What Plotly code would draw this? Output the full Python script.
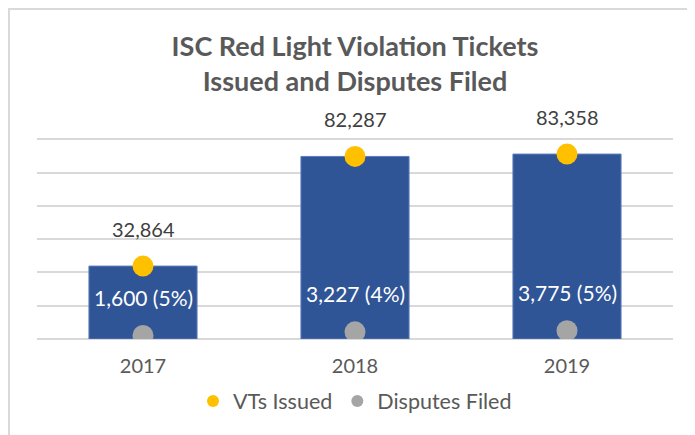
import plotly.graph_objects as go

years = ["2017", "2018", "2019"]
vts_issued = [32864, 82287, 83358]
disputes_filed = [1600, 3227, 3775]
y_ticks = [0, 15000, 30000, 45000, 60000, 75000, 90000]

BLUE = "#2F5597"
YELLOW = "#FFC000"
GREY = "#A5A5A5"
FONT = "Lato"

fig = go.Figure()
fig.add_trace(go.Bar(x=years, y=vts_issued, marker=dict(color=BLUE, line=dict(color="#5B7DBA", width=1)),
                     width=0.51, showlegend=False, hoverinfo="skip"))
fig.add_trace(go.Scatter(x=years, y=vts_issued, mode="markers", name="VTs Issued",
                         marker=dict(color=YELLOW, size=21)))
fig.add_trace(go.Scatter(x=years, y=disputes_filed, mode="markers", name="Disputes Filed",
                         marker=dict(color=GREY, size=21)))

annotations = []
# category axis: annotation x given as category index
for i, v in enumerate(vts_issued):
    annotations.append(dict(x=i, y=v, xref="x", yref="y", text=f"{v:,}", showarrow=False,
                            yshift=37, font=dict(family=FONT, size=20, color="#404040")))
for i, (d, v) in enumerate(zip(disputes_filed, vts_issued)):
    annotations.append(dict(x=i, y=d, xref="x", yref="y", text=f"{d:,} ({round(d / v * 100)}%)",
                            showarrow=False, yshift=38, font=dict(family=FONT, size=21, color="white")))

# page has an 8px body margin; figure coords = screen coords - 8
W, H = 687, 427
L, R, T, B = 29, 22, 130, 96
px_w, px_h = W - L - R, H - T - B
def px_x(p): return (p - L) / px_w
def px_y(p): return (H - B - p) / px_h

shapes = [
    dict(type="line", xref="paper", yref="paper", x0=px_x(1), x1=px_x(1), y0=px_y(440), y1=px_y(0),
         line=dict(color="#D9D9D9", width=2)),
    dict(type="line", xref="paper", yref="paper", x0=px_x(0), x1=px_x(700), y0=px_y(1), y1=px_y(1),
         line=dict(color="#D9D9D9", width=2)),
]

fig.update_layout(
    width=W, height=H,
    margin=dict(l=L, r=R, t=T, b=B),
    paper_bgcolor="white", plot_bgcolor="white",
    title=dict(text="<b>ISC Red Light Violation Tickets<br>Issued and Disputes Filed</b>",
               x=0.5, xref="paper", xanchor="center", y=1 - 48 / H, yanchor="middle",
               font=dict(family=FONT, size=27, color="#595959")),
    font=dict(family=FONT, color="#595959"),
    xaxis=dict(type="category", range=[-0.5, len(years) - 0.5], showgrid=False, showline=False,
               ticks="outside", ticklen=9, tickcolor="rgba(0,0,0,0)",
               tickfont=dict(family=FONT, size=20, color="#595959"), fixedrange=True),
    yaxis=dict(range=[0, 90600], tickvals=y_ticks, showticklabels=False, showgrid=True,
               gridcolor="#D9D9D9", gridwidth=1.5, zeroline=True, zerolinecolor="#D9D9D9",
               zerolinewidth=1.5, showline=False),
    legend=dict(orientation="h", x=0.5, xanchor="center", y=px_y(393), yanchor="middle",
                font=dict(family=FONT, size=21.5, color="#595959"), itemsizing="constant",
                bgcolor="rgba(0,0,0,0)"),
    annotations=annotations,
    shapes=shapes,
    bargap=0.49,
)

fig.write_html("out.html")
